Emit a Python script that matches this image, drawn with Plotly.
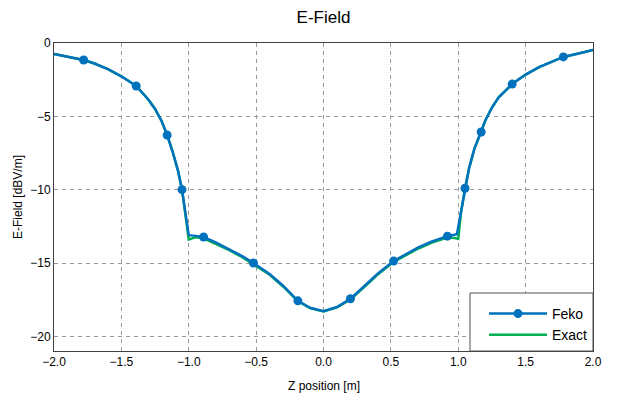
import plotly.graph_objects as go

# Feko simulated field along Z
feko_z = [-2.0, -1.9, -1.78, -1.7, -1.6, -1.5, -1.39, -1.3, -1.25, -1.2, -1.16, -1.12, -1.08,
          -1.05, -1.03, -1.0, -0.95, -0.89, -0.8, -0.7, -0.6, -0.52, -0.4, -0.3, -0.19, -0.1,
          0.0, 0.1, 0.2, 0.3, 0.4, 0.52, 0.6, 0.7, 0.8, 0.92, 0.99, 1.02, 1.05, 1.08, 1.12,
          1.17, 1.2, 1.25, 1.3, 1.4, 1.5, 1.6, 1.7, 1.78, 1.9, 2.0]
feko_e = [-0.75, -0.93, -1.16, -1.40, -1.78, -2.27, -2.93, -3.85, -4.5, -5.35, -6.28, -7.4, -8.7,
          -10.0, -11.3, -13.1, -13.15, -13.23, -13.6, -14.05, -14.55, -15.0, -15.75, -16.55, -17.58, -18.05,
          -18.28, -18.0, -17.44, -16.6, -15.75, -14.87, -14.45, -13.95, -13.55, -13.17, -13.03, -11.5, -9.9, -8.55, -7.2,
          -6.07, -5.3, -4.4, -3.7, -2.8, -2.15, -1.65, -1.27, -0.95, -0.7, -0.48]
# indices of Feko samples that carry a marker
feko_marker_idx = [2, 6, 10, 13, 17, 21, 24, 28, 31, 35, 38, 41, 45, 49]

# Exact analytical solution
exact_z = [-2.0, -1.9, -1.78, -1.7, -1.6, -1.5, -1.39, -1.3, -1.25, -1.2, -1.16, -1.12, -1.08,
           -1.05, -1.03, -1.0, -0.97, -0.95, -0.89, -0.8, -0.7, -0.6, -0.52, -0.4, -0.3, -0.19, -0.1,
           0.0, 0.1, 0.2, 0.3, 0.4, 0.52, 0.6, 0.7, 0.8, 0.92, 0.97, 1.0, 1.02, 1.05, 1.08, 1.12,
           1.17, 1.2, 1.25, 1.3, 1.4, 1.5, 1.6, 1.7, 1.78, 1.9, 2.0]
exact_e = [-0.75, -0.93, -1.16, -1.40, -1.78, -2.27, -2.93, -3.85, -4.5, -5.35, -6.28, -7.4, -8.7,
           -10.0, -11.4, -13.4, -13.3, -13.25, -13.32, -13.68, -14.12, -14.62, -15.07, -15.8, -16.6, -17.6, -18.08,
           -18.3, -18.03, -17.48, -16.65, -15.8, -14.93, -14.52, -14.03, -13.63, -13.26, -13.3, -13.35, -11.6, -9.9, -8.55, -7.2,
           -6.07, -5.3, -4.4, -3.7, -2.8, -2.15, -1.65, -1.27, -0.95, -0.7, -0.48]

x_ticks = [-2.0, -1.5, -1.0, -0.5, 0.0, 0.5, 1.0, 1.5, 2.0]
y_ticks = [0, -5, -10, -15, -20]

BLUE = "#0072BD"
GREEN = "#00B050"
FONT = "Liberation Sans, Arial, sans-serif"

fig = go.Figure()
fig.add_trace(go.Scatter(x=exact_z, y=exact_e, mode="lines", name="Exact",
                         line=dict(color=GREEN, width=2.5), legendrank=2))
fig.add_trace(go.Scatter(x=feko_z, y=feko_e, mode="lines", name="Feko", showlegend=False,
                         line=dict(color=BLUE, width=2.5), legendgroup="feko"))
fig.add_trace(go.Scatter(x=[feko_z[i] for i in feko_marker_idx], y=[feko_e[i] for i in feko_marker_idx],
                         mode="markers", name="Feko", showlegend=False, legendgroup="feko",
                         marker=dict(color=BLUE, size=9)))
fig.add_trace(go.Scatter(x=[None], y=[None], mode="lines+markers", name="Feko", legendgroup="feko",
                         line=dict(color=BLUE, width=2.5), marker=dict(color=BLUE, size=9), legendrank=1))

grid = dict(showgrid=True, gridcolor="#9a9a9a", griddash="4px,4px", gridwidth=1,
            showline=True, linecolor="#404040", linewidth=1, mirror=True,
            ticks="", zeroline=False, tickfont=dict(size=12, color="black"))

fig.update_layout(
    width=624, height=399,
    margin=dict(l=46, r=39, t=35, b=56),
    paper_bgcolor="white", plot_bgcolor="white",
    font=dict(family=FONT, size=12, color="black"),
    title=dict(text="E-Field", x=0.5, xanchor="center", xref="paper",
               y=1 - 9 / 399, yanchor="middle", font=dict(size=17, color="black")),
    xaxis=dict(range=[-2, 2], tickvals=x_ticks, tickformat=".1f", **grid),
    yaxis=dict(range=[-21, 0], tickvals=y_ticks, **grid),
    legend=dict(x=1, y=0, xanchor="right", yanchor="bottom", bgcolor="rgba(0,0,0,0)",
                borderwidth=0, font=dict(size=14),
                itemwidth=58, tracegroupgap=0),
    showlegend=True,
    shapes=[
        dict(type="rect", xref="paper", yref="paper", x0=(462 - 46) / 539, x1=1.0,
             y0=0, y1=(343 - 285) / 308, fillcolor="white",
             line=dict(color="#505050", width=1), layer="above"),
    ],
    annotations=[
        dict(text="Z position [m]", xref="paper", yref="paper", x=0.5, y=(343 - 378) / 308,
             xanchor="center", yanchor="middle", showarrow=False, font=dict(size=12)),
        dict(text="E-Field [dBV/m]", xref="paper", yref="paper", x=(10 - 46) / 539, y=0.5,
             xanchor="center", yanchor="middle", textangle=-90, showarrow=False, font=dict(size=12)),
    ],
)

fig.write_html("out.html")
